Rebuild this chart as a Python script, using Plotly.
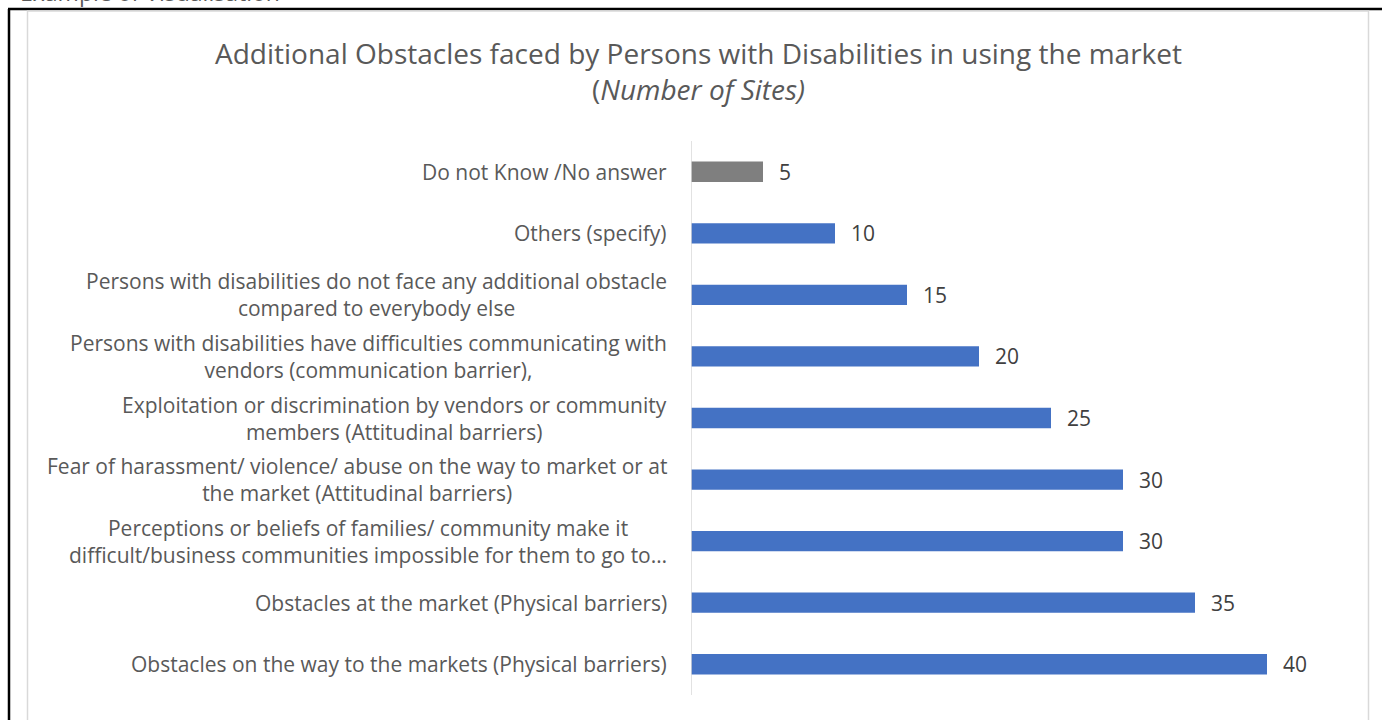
import plotly.graph_objects as go

# Survey responses, listed bottom to top
categories = [
    "Obstacles on the way to the markets (Physical barriers)",
    "Obstacles at the market (Physical barriers)",
    "Perceptions or beliefs of families/ community make it<br>difficult/business communities impossible for them to go to…",
    "Fear of harassment/ violence/ abuse on the way to market or at<br>the market (Attitudinal barriers)",
    "Exploitation or discrimination by vendors or community<br>members (Attitudinal barriers)",
    "Persons with disabilities have difficulties communicating with<br>vendors (communication barrier),",
    "Persons with disabilities do not face any additional obstacle<br>compared to everybody else",
    "Others (specify)",
    "Do not Know /No answer",
]
sites = [40, 35, 30, 30, 25, 20, 15, 10, 5]
bar_colors = ["#4472C4"] * 8 + ["#7F7F7F"]

TEXT = "#595959"
FONT = "Open Sans"

W, H = 1382, 720
L, R, T, B = 691, 43, 141, 25


def px_x(p):
    return (p - L) / (W - L - R)


def px_y(p):
    return 1 - (p - T) / (H - T - B)


ypos = list(range(len(categories)))

fig = go.Figure(
    go.Bar(
        x=sites,
        y=ypos,
        orientation="h",
        marker=dict(color=bar_colors, line=dict(width=0)),
        width=0.33,
        hoverinfo="x+y",
    )
)

# Value labels to the right of each bar
for v, yp in zip(sites, ypos):
    fig.add_annotation(
        x=v, y=yp, xref="x", yref="y", text=str(v), showarrow=False,
        xanchor="left", yanchor="middle", xshift=14,
        font=dict(family=FONT, size=21, color="#404040"),
    )

# Category labels, centred in a block that ends just left of the axis
for yp, c in zip(ypos, categories):
    fig.add_annotation(
        x=0, y=yp, xref="x", yref="y", text=c, showarrow=False,
        xanchor="right", yanchor="middle", align="center", xshift=-22,
        font=dict(family=FONT, size=21, color=TEXT),
    )

# Title
fig.add_annotation(
    x=px_x(698), y=px_y(71), xref="paper", yref="paper", showarrow=False,
    text="Additional Obstacles faced by Persons with Disabilities in using the market<br>(<i>Number of Sites)</i>",
    font=dict(family=FONT, size=28, color=TEXT), align="center",
    xanchor="center", yanchor="middle",
)

# Heading above the frame, partly cut off by the page top
fig.add_annotation(
    x=px_x(18), y=px_y(10), xref="paper", yref="paper", showarrow=False,
    text="Example of Visualisation", xanchor="left", yanchor="bottom",
    font=dict(family=FONT, size=23, color=TEXT),
)

# Outer frame and chart border
fig.add_shape(type="line", xref="paper", yref="paper",
              x0=px_x(9), x1=px_x(9), y0=px_y(9), y1=px_y(725),
              line=dict(color="black", width=2.5))
fig.add_shape(type="line", xref="paper", yref="paper",
              x0=px_x(8), x1=px_x(1390), y0=px_y(9), y1=px_y(9),
              line=dict(color="black", width=2.5))
fig.add_shape(type="rect", xref="paper", yref="paper",
              x0=px_x(27.5), x1=px_x(1368.5), y0=px_y(11), y1=px_y(730),
              line=dict(color="#D9D9D9", width=1.5))

fig.update_layout(
    width=W, height=H,
    margin=dict(l=L, r=R, t=T, b=B),
    paper_bgcolor="white", plot_bgcolor="white",
    showlegend=False,
    xaxis=dict(range=[0, 45], visible=False),
    yaxis=dict(range=[-0.5, len(categories) - 0.5], showticklabels=False,
               showgrid=False, zeroline=False, showline=False),
)

fig.add_shape(type="line", xref="x", yref="paper", x0=0, x1=0,
              y0=0, y1=1, line=dict(color="#D9D9D9", width=1.5))

fig.write_html("out.html")
